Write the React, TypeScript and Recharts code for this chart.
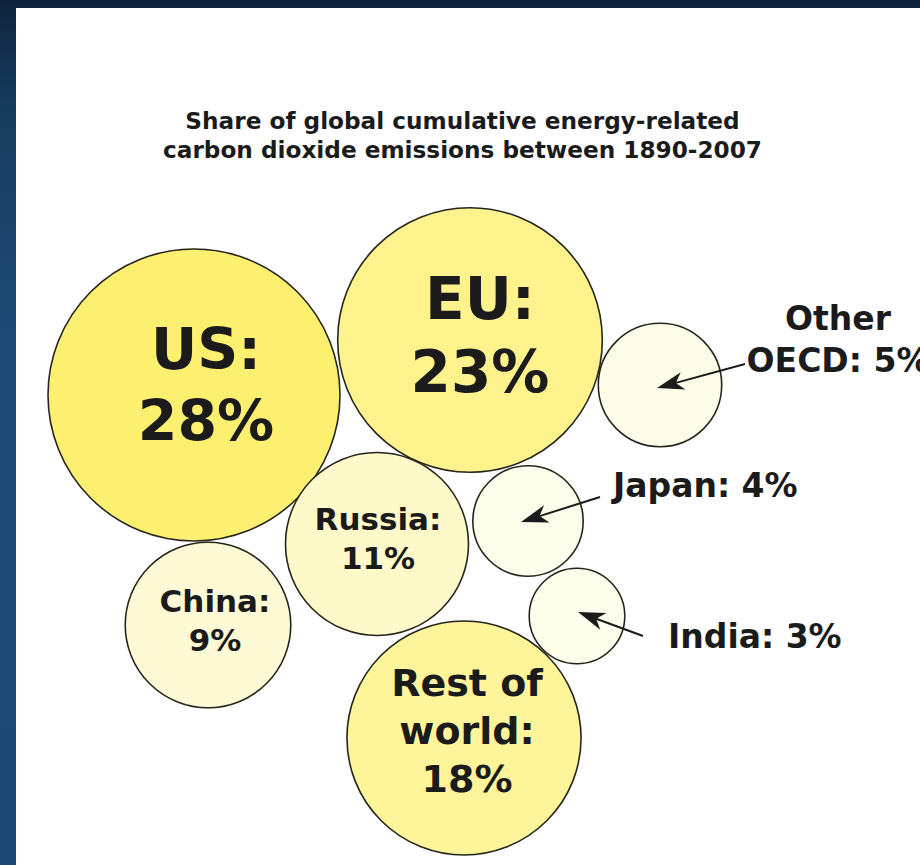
import { ScatterChart, Scatter, XAxis, YAxis, ZAxis } from 'recharts';

// Cumulative energy-related CO2, share of global total (%), 1890-2007
const REGIONS = ['US', 'EU', 'Other OECD', 'Japan', 'Russia', 'China', 'India', 'Rest of world'];
const SHARES = [28, 23, 5, 4, 11, 9, 3, 18];
const LABEL_LINES = [['US'], ['EU'], ['Other', 'OECD'], ['Japan'], ['Russia'], ['China'], ['India'], ['Rest of', 'world']];

// packed layout: bubble centres in chart units (x right, y down)
const BUBBLE_X = [194, 470, 660, 528, 377, 208, 577, 464];
const BUBBLE_Y = [395, 340, 385, 521, 544, 625, 616, 738];

const FILLS = ['#fdef70', '#fdf28c', '#fefce9', '#fefdeb', '#fef9c9', '#fefad5', '#fefdeb', '#fef59b'];
const FONT_SIZES = [57, 58, 33, 33, 31, 31, 33, 38];
const TEXT_DX = [12, 10, 0, 0, 1, 7, 0, 3];
const TEXT_DY = [-11, -6, 0, 0, -6, -5, 0, -8];

// small bubbles get their label outside, with an arrow pointing in
const CALLOUTS: Record<string, { text: [number, number]; anchor: string; from: [number, number]; to: [number, number] }> = {
  'Other OECD': { text: [178, -55], anchor: 'middle', from: [85, -21], to: [-3, 3] },
  Japan: { text: [85, -24], anchor: 'start', from: [72, -24], to: [-7, 1] },
  India: { text: [91, 32], anchor: 'start', from: [66, 20], to: [1, -4] },
};

const MAX_RADIUS = 146;
const INK = '#1b1b1b';
const FONT = '"DejaVu Sans", Verdana, sans-serif';

const rows = REGIONS.map((name, i) => ({
  name,
  share: SHARES[i],
  x: BUBBLE_X[i],
  y: BUBBLE_Y[i],
  idx: i,
}));

function arrowHead(tx: number, ty: number, fx: number, fy: number) {
  const len = Math.hypot(fx - tx, fy - ty);
  const dx = (fx - tx) / len;
  const dy = (fy - ty) / len;
  const L = 27;
  const w = 9;
  const p = (a: number, b: number) => `${(tx + dx * a - dy * b).toFixed(1)},${(ty + dy * a + dx * b).toFixed(1)}`;
  return { d: `M${p(0, 0)} L${p(L, w)} L${p(L * 0.72, 0)} L${p(L, -w)} Z`, neck: [tx + dx * L * 0.72, ty + dy * L * 0.72] };
}

function Bubble(props: any) {
  const { cx, cy, width, payload } = props;
  const i = payload.idx;
  const r = width / 2;
  const fs = FONT_SIZES[i];
  const lh = fs * 1.26;
  const callout = CALLOUTS[payload.name];
  const names = LABEL_LINES[i];

  let label;
  if (callout) {
    const lines = [...names.slice(0, -1), `${names[names.length - 1]}: ${payload.share}%`];
    const tip = [cx + callout.to[0], cy + callout.to[1]];
    const start = [cx + callout.from[0], cy + callout.from[1]];
    const head = arrowHead(tip[0], tip[1], start[0], start[1]);
    label = (
      <g>
        <line x1={start[0]} y1={start[1]} x2={head.neck[0]} y2={head.neck[1]} stroke={INK} strokeWidth={2} />
        <path d={head.d} fill={INK} />
        <text
          x={cx + callout.text[0]}
          y={cy + callout.text[1]}
          textAnchor={callout.anchor}
          fontFamily={FONT}
          fontWeight="bold"
          fontSize={fs}
          fill={INK}
        >
          {lines.map((t, k) => (
            <tspan key={k} x={cx + callout.text[0]} dy={k === 0 ? 0 : lh}>
              {t}
            </tspan>
          ))}
        </text>
      </g>
    );
  } else {
    const lines = [...names.slice(0, -1), `${names[names.length - 1]}:`, `${payload.share}%`];
    const tx = cx + TEXT_DX[i];
    const first = cy + TEXT_DY[i] - ((lines.length - 1) / 2) * lh + fs * 0.729 / 2;
    label = (
      <text x={tx} y={first} textAnchor="middle" fontFamily={FONT} fontWeight="bold" fontSize={fs} fill={INK}>
        {lines.map((t, k) => (
          <tspan key={k} x={tx} dy={k === 0 ? 0 : lh}>
            {t}
          </tspan>
        ))}
      </text>
    );
  }

  return (
    <g>
      <circle cx={cx} cy={cy} r={r} fill={FILLS[i]} stroke="#26251c" strokeWidth={1.6} />
      {label}
    </g>
  );
}

export default function App() {
  return (
    <div
      style={{
        position: 'absolute',
        left: 0,
        top: 0,
        width: 920,
        height: 865,
        overflow: 'hidden',
        background: 'linear-gradient(180deg, #0f233b 0%, #173b5e 12%, #1e4c77 40%, #1d4a74 100%)',
      }}
    >
      <div style={{ position: 'absolute', left: 16, top: 8, right: 0, bottom: 0, background: '#ffffff' }} />
      <div
        style={{
          position: 'absolute',
          left: 16,
          right: 0,
          top: 106,
          textAlign: 'center',
          fontFamily: FONT,
          fontWeight: 'bold',
          fontSize: 23.2,
          lineHeight: '29px',
          color: INK,
          paddingRight: 11,
        }}
      >
        Share of global cumulative energy-related
        <br />
        carbon dioxide emissions between 1890-2007
      </div>
      <div style={{ position: 'absolute', left: 0, top: 0 }}>
        <ScatterChart width={920} height={865} margin={{ top: 0, right: 0, bottom: 0, left: 0 }}>
          <XAxis type="number" dataKey="x" domain={[0, 920]} hide />
          <YAxis type="number" dataKey="y" domain={[0, 865]} reversed hide />
          <ZAxis type="number" dataKey="share" domain={[0, 28]} range={[0, Math.PI * MAX_RADIUS * MAX_RADIUS]} />
          <Scatter data={rows} shape={(p: any) => <Bubble {...p} />} isAnimationActive={false} />
        </ScatterChart>
      </div>
    </div>
  );
}
